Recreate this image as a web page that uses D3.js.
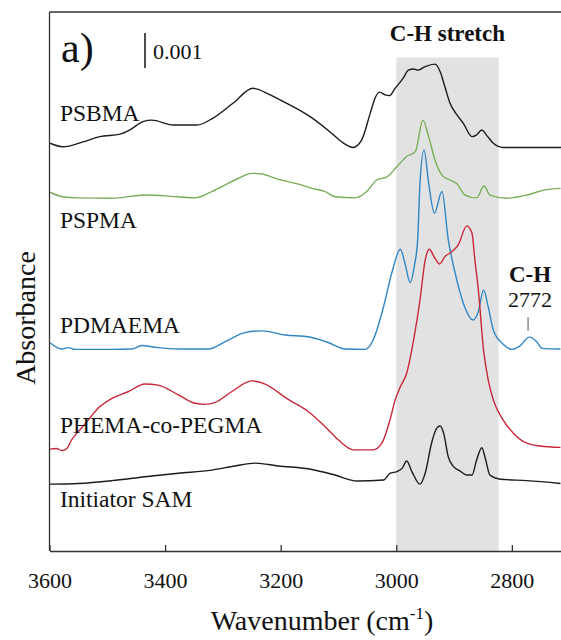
<!DOCTYPE html>
<meta charset="utf-8">
<script src="https://d3js.org/d3.v7.min.js"></script>
<div id="chart"></div>
<style>
  body { margin: 0; background: #fff; }
  text { font-family: "Liberation Serif", "Times New Roman", serif; fill: #111; }
  .tick text { font-size: 22px; }
</style>
<script>
// spectra: [wavenumber (cm-1), stacked absorbance in units of 0.001]
var psbma = [[3599,11.65],[3577,11.55],[3542,11.69],[3513,11.84],[3478,11.91],[3461,12.03],[3438,12.27],[3423,12.31],
  [3386,12.17],[3345,12.17],[3317,12.37],[3282,12.8],[3248,13.22],[3218,13.03],[3201,12.89],[3149,12.41],[3115,11.98],
  [3092,11.66],[3075,11.53],[3060,11.74],[3045,12.51],[3037,12.93],[3029,13.11],[3019,13.03],[3012,13.01],[3002,13.22],
  [2988,13.51],[2979,13.74],[2970,13.77],[2962,13.74],[2950,13.84],[2933,13.91],[2924,13.69],[2916,13.27],[2907,12.79],
  [2895,12.46],[2884,12.22],[2869,11.84],[2861,11.89],[2852,12.03],[2843,11.86],[2832,11.65],[2815,11.53],[2786,11.53],[2715,11.53]];

var pspma = [[3599,10.25],[3577,10.12],[3551,10.09],[3492,10.08],[3435,10.17],[3378,10.12],[3348,10.09],[3319,10.27],
  [3296,10.46],[3273,10.65],[3250,10.79],[3233,10.77],[3204,10.62],[3169,10.48],[3146,10.36],[3123,10.27],[3106,10.12],
  [3071,10.09],[3051,10.27],[3034,10.6],[3016,10.69],[2999,10.98],[2982,11.27],[2967,11.41],[2954,12.31],[2944,11.84],
  [2933,11.17],[2921,10.74],[2907,10.6],[2895,10.49],[2881,10.17],[2861,10.09],[2848,10.43],[2838,10.17],[2809,10.08],
  [2774,10.17],[2745,10.31],[2716,10.36]];

var pdmaema = [[3599,5.95],[3579,5.77],[3567,5.81],[3556,5.76],[3492,5.76],[3458,5.77],[3440,5.87],[3417,5.82],[3377,5.77],
  [3325,5.77],[3296,5.98],[3262,6.24],[3233,6.29],[3192,6.17],[3152,6.12],[3117,5.95],[3089,5.77],[3054,5.76],[3040,6.03],
  [3022,6.98],[3008,7.93],[2993,8.62],[2985,8.22],[2976,7.67],[2969,8.12],[2963,8.89],[2959,10.51],[2952,11.46],[2944,10.51],
  [2934,9.65],[2921,10.27],[2910,8.89],[2898,7.93],[2884,7.08],[2867,6.6],[2858,6.84],[2849,7.46],[2841,6.98],[2832,6.31],
  [2815,5.91],[2800,5.76],[2786,5.86],[2770,6.11],[2757,5.98],[2748,5.79],[2716,5.77]];

var phema = [[3599,2.91],[3588,2.93],[3579,2.87],[3570,2.93],[3562,3.17],[3550,3.41],[3533,3.74],[3516,4.08],[3492,4.36],
  [3464,4.55],[3435,4.77],[3412,4.74],[3377,4.46],[3348,4.22],[3331,4.19],[3314,4.24],[3285,4.55],[3250,4.86],[3227,4.77],
  [3187,4.33],[3152,3.98],[3123,3.55],[3100,3.17],[3074,2.89],[3040,2.89],[3025,3.08],[3011,3.74],[3002,4.31],[2993,4.69],
  [2982,5.08],[2970,6.03],[2959,7.17],[2950,8.31],[2943,8.62],[2933,8.36],[2925,8.2],[2916,8.41],[2904,8.55],[2893,8.74],
  [2878,9.29],[2869,9.08],[2864,8.31],[2858,7.46],[2849,5.74],[2841,4.89],[2832,4.31],[2815,3.74],[2797,3.36],[2774,3.08],
  [2751,3.0],[2716,2.96]];

var initiator = [[3599,1.91],[3550,1.93],[3492,2.01],[3435,2.12],[3377,2.22],[3319,2.31],[3279,2.43],[3244,2.51],[3204,2.43],
  [3146,2.33],[3106,2.17],[3068,2.0],[3022,2.03],[3011,2.22],[2999,2.27],[2990,2.36],[2982,2.57],[2973,2.27],[2959,1.91],
  [2950,2.22],[2939,3.08],[2930,3.51],[2924,3.57],[2918,3.36],[2910,2.69],[2901,2.41],[2890,2.29],[2878,2.17],[2869,2.17],
  [2861,2.6],[2852,2.95],[2846,2.65],[2838,2.17],[2820,2.05],[2774,2.01],[2716,1.93]];

var seriesNames = ["PSBMA", "PSPMA", "PDMAEMA", "PHEMA-co-PEGMA", "Initiator SAM"];
var seriesColors = ["#1c1c1c", "#79ae58", "#2f86c5", "#c8283a", "#1c1c1c"];
var labelLevels = [12.29, 9.22, 6.22, 3.38, 1.27];   // label baselines, same units as spectra
var xTicks = [3600, 3400, 3200, 3000, 2800];
var stretchBand = [3000, 2823];
var bandTop = 14.1;
var peakMark = 2772;

var allSeries = [psbma, pspma, pdmaema, phema, initiator];

var width = 561, height = 640;
var margin = {top: 12, right: 0, bottom: 89, left: 49.5};

var svg = d3.select("#chart").append("svg")
  .attr("width", width)
  .attr("height", height);

var x = d3.scaleLinear()
  .domain([3600, 2715])
  .range([margin.left, width - margin.right]);

var y = d3.scaleLinear()
  .domain([0, 15.4])
  .range([height - margin.bottom, margin.top]);

// grey C-H stretch region
svg.append("rect")
  .attr("x", x(stretchBand[0]))
  .attr("width", x(stretchBand[1]) - x(stretchBand[0]))
  .attr("y", y(bandTop))
  .attr("height", y(0) - y(bandTop))
  .attr("fill", "#e2e2e2");

// spectra
var line = d3.line()
  .x(function(d) { return x(d[0]); })
  .y(function(d) { return y(d[1]); })
  .curve(d3.curveMonotoneX);

svg.selectAll("path.spec")
  .data(allSeries)
  .enter().append("path")
  .attr("class", "spec")
  .attr("fill", "none")
  .attr("stroke", function(d, i) { return seriesColors[i]; })
  .attr("stroke-width", 1.4)
  .attr("d", line);

// labels
svg.selectAll("text.lab")
  .data(seriesNames)
  .enter().append("text")
  .attr("class", "lab")
  .attr("x", x(3582))
  .attr("y", function(d, i) { return y(labelLevels[i]); })
  .style("font-size", "23.5px")
  .text(function(d) { return d; });

// frame
svg.append("line")
  .attr("x1", margin.left).attr("x2", width)
  .attr("y1", margin.top).attr("y2", margin.top)
  .attr("stroke", "#333").attr("stroke-width", 1.3);
svg.append("line")
  .attr("x1", margin.left).attr("x2", margin.left)
  .attr("y1", margin.top).attr("y2", y(0))
  .attr("stroke", "#333").attr("stroke-width", 1.3);

var xAxis = svg.append("g")
  .attr("transform", "translate(0," + y(0) + ")")
  .call(d3.axisBottom(x).tickValues(xTicks).tickFormat(d3.format("d"))
    .tickSizeInner(-6).tickSizeOuter(0).tickPadding(21));
xAxis.select(".domain").attr("stroke", "#333").attr("stroke-width", 1.3);
xAxis.selectAll(".tick line").attr("stroke", "#333").attr("stroke-width", 1.3);
xAxis.selectAll(".tick text").attr("fill", "#111");

// axis titles
var xt = svg.append("text")
  .attr("x", 322).attr("y", 630)
  .attr("text-anchor", "middle")
  .style("font-size", "28px");
xt.append("tspan").text("Wavenumber (cm");
xt.append("tspan").attr("dy", -11).style("font-size", "17px").text("-1");
xt.append("tspan").attr("dy", 11).text(")");

svg.append("text")
  .attr("transform", "translate(35,318) rotate(-90)")
  .attr("text-anchor", "middle")
  .style("font-size", "28px")
  .text("Absorbance");

// panel tag and scale bar
svg.append("text")
  .attr("x", 61).attr("y", 62)
  .style("font-size", "42px")
  .text("a)");

svg.append("line")
  .attr("x1", 145).attr("x2", 145)
  .attr("y1", 33).attr("y2", 33 + (y(0) - y(1)))
  .attr("stroke", "#111").attr("stroke-width", 1.5);
svg.append("text")
  .attr("x", 153).attr("y", 59)
  .style("font-size", "22px")
  .text("0.001");

svg.append("text")
  .attr("x", (x(stretchBand[0]) + x(stretchBand[1])) / 2).attr("y", 41)
  .attr("text-anchor", "middle")
  .style("font-size", "23px").style("font-weight", "bold")
  .text("C-H stretch");

// C-H 2772 annotation
svg.append("text")
  .attr("x", x(peakMark) + 2).attr("y", 282)
  .attr("text-anchor", "middle")
  .style("font-size", "23px").style("font-weight", "bold")
  .text("C-H");
svg.append("text")
  .attr("x", x(peakMark) + 2).attr("y", 307)
  .attr("text-anchor", "middle")
  .style("font-size", "22px")
  .text(peakMark);
svg.append("line")
  .attr("x1", x(peakMark)).attr("x2", x(peakMark))
  .attr("y1", 317).attr("y2", 331)
  .attr("stroke", "#555").attr("stroke-width", 1);
</script>
